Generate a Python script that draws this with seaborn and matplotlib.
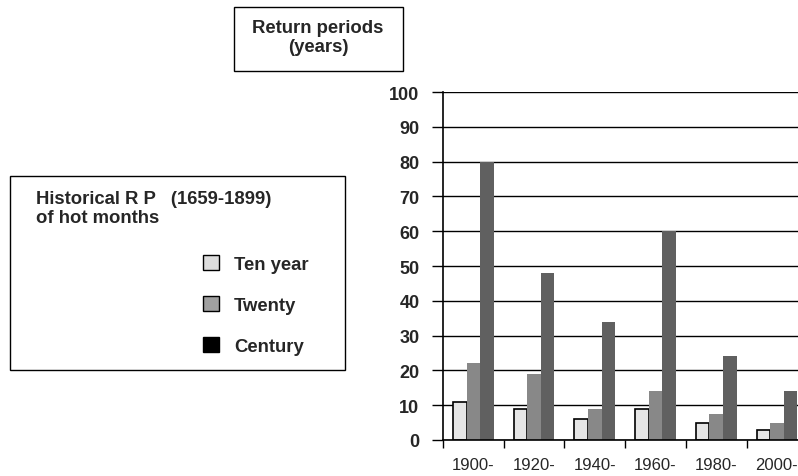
import pandas as pd
import seaborn as sns
import matplotlib.pyplot as plt
from matplotlib.patches import Patch, Rectangle

periods = ['1900-', '1920-', '1940-', '1960-', '1980-', '2000-']
ten_year = [11, 9, 6, 9, 5, 3]
twenty = [22, 19, 9, 14, 7.5, 5]
century = [80, 48, 34, 60, 24, 14]
series_names = ['Ten year', 'Twenty', 'Century']

data = pd.DataFrame({
    'period': periods * 3,
    'value': ten_year + twenty + century,
    'series': [s for s in series_names for _ in periods],
})

sns.set_style('white')
plt.rcParams['font.family'] = ['Liberation Sans', 'DejaVu Sans']

fig = plt.figure(figsize=(7.98, 4.77), dpi=100)
W, H = 798, 477
ax_ = fig.add_axes([443 / W, 1 - 441 / H, 360 / W, 348 / H])

colors = ['#e6e6e6', '#888888', '#606060']

sns.barplot(
    data=data,
    x='period',
    y='value',
    hue='series',
    palette=colors,
    width=0.67,
    gap=0,
    saturation=1,
    legend=False,
    ax=ax_,
    )

# only the ten year bars have an outline
for bar in ax_.containers[0]:
    bar.set_edgecolor('black')
    bar.set_linewidth(1.2)
for container in ax_.containers[1:]:
    for bar in container:
        bar.set_linewidth(0)

ax_.set_ylim(0, 100)
ax_.set_xlim(-0.5, 5.43)
ax_.set_yticks(range(0, 101, 10))
ax_.yaxis.grid(True, color='black', linewidth=1)
ax_.set_axisbelow(True)
ax_.set_xlabel('')
ax_.set_ylabel('')

for side in ['top', 'right']:
    ax_.spines[side].set_visible(False)
ax_.spines['left'].set_color('black')
ax_.spines['bottom'].set_color('black')
ax_.spines['left'].set_linewidth(1.2)
ax_.spines['bottom'].set_linewidth(1.2)

ax_.tick_params(axis='y', which='major', left=True, direction='out',
                length=8, width=1, color='black', pad=9, labelsize=13)
for lab in ax_.get_yticklabels():
    lab.set_fontweight('bold')

ax_.set_xticks(range(len(periods)))
ax_.set_xticklabels(periods)
ax_.set_xticks([i - 0.5 for i in range(len(periods))], minor=True)
ax_.tick_params(axis='x', which='major', bottom=False, length=0, pad=12,
                labelsize=12)
ax_.tick_params(axis='x', which='minor', bottom=True, direction='out',
                length=6, width=1, color='black')

# title box
fig.patches.append(Rectangle((234 / W, 1 - 72 / H), 169 / W, 64 / H,
                             transform=fig.transFigure, fill=False,
                             edgecolor='black', linewidth=1))
fig.text(318 / W, 1 - 38 / H, 'Return periods\n(years)', ha='center', va='center',
         fontsize=13.3, fontweight='bold', linespacing=1.15)

# legend box
fig.patches.append(Rectangle((10 / W, 1 - 371 / H), 335 / W, 194 / H,
                             transform=fig.transFigure, fill=False,
                             edgecolor='black', linewidth=1))
fig.text(36 / W, 1 - 209 / H, 'Historical R P   (1659-1899)\nof hot months',
         ha='left', va='center', fontsize=13.3, fontweight='bold', linespacing=1.2)

handles = [
    Patch(facecolor='#dddddd', edgecolor='black', linewidth=1),
    Patch(facecolor='#a0a0a0', edgecolor='black', linewidth=1),
    Patch(facecolor='black', edgecolor='black', linewidth=1),
    ]
fig.legend(
    handles,
    series_names,
    loc='upper left',
    bbox_to_anchor=(188 / W, 1 - 241 / H),
    frameon=False,
    prop={'weight': 'bold', 'size': 13.3},
    handlelength=0.9,
    handleheight=0.9,
    handletextpad=0.8,
    labelspacing=1.25,
    borderpad=0.3,
    )

plt.savefig('out.png', dpi=100)
